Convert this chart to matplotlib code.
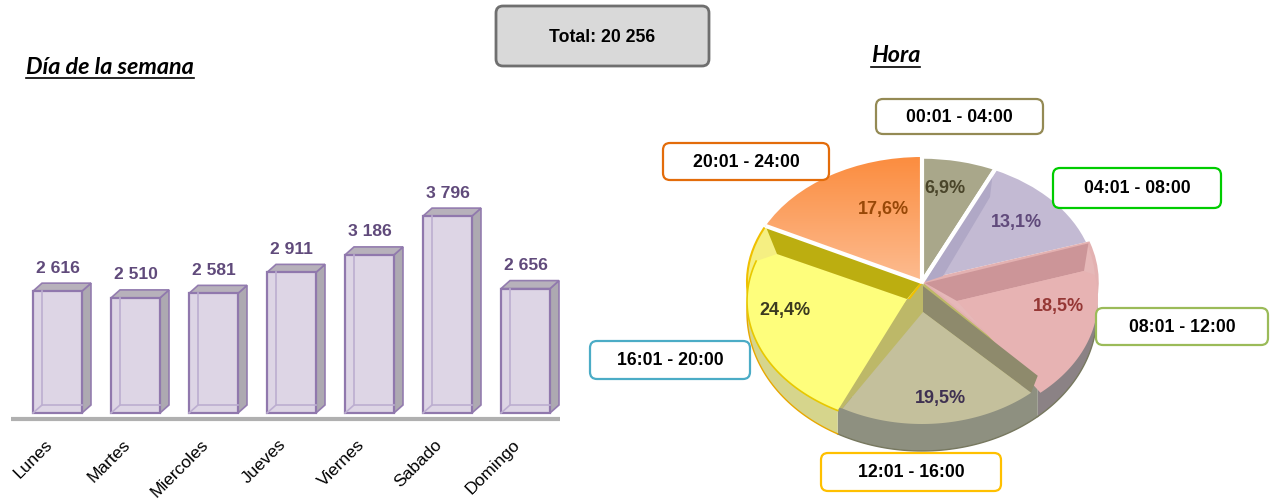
import numpy as np
import matplotlib
matplotlib.use("Agg")
import matplotlib.pyplot as plt
from matplotlib.patches import FancyBboxPatch, Polygon
from matplotlib.transforms import ScaledTranslation

plt.rcParams["font.family"] = ["Liberation Sans", "DejaVu Sans"]

# datos
dias = ["Lunes", "Martes", "Miercoles", "Jueves", "Viernes", "Sabado", "Domingo"]
casos = [2616, 2510, 2581, 2911, 3186, 3796, 2656]
etiquetas_casos = ["2 616", "2 510", "2 581", "2 911", "3 186", "3 796", "2 656"]
horas = ["00:01 - 04:00", "04:01 - 08:00", "08:01 - 12:00", "12:01 - 16:00", "16:01 - 20:00", "20:01 - 24:00"]
porcentajes = [6.9, 13.1, 18.5, 19.5, 24.4, 17.6]
total = "20 256"

W, H = 1271, 502
fig = plt.figure(figsize=(W / 100, H / 100), dpi=100)


# ------ barras ------
def rect_px(x0, y0, x1, y1):
    return [x0 / W, 1 - y1 / H, (x1 - x0) / W, (y1 - y0) / H]


ax = fig.add_axes(rect_px(11, 170, 560, 420))
PX_X = 78.0       # px por categoria
PX_Y = 0.0636     # px por caso
base = 700
ax.set_xlim((11 - 57.5) / PX_X, (560 - 57.5) / PX_X)
ax.set_ylim(base - 6 / PX_Y, base + 244 / PX_Y)
ax.patch.set_alpha(0)
ax.set_yticks([])
for s in ["top", "left", "right"]:
    ax.spines[s].set_visible(False)
ax.spines["bottom"].set_color("#b0b0b0")
ax.spines["bottom"].set_linewidth(3)
ax.spines["bottom"].set_capstyle("butt")

x = np.arange(len(dias))
bw = 49 / PX_X
dx = 9 / PX_X
dy = 8 / PX_Y
edge = "#9078ad"
for xi, v in zip(x, casos):
    l, r = xi - bw / 2, xi + bw / 2
    ax.add_patch(Polygon([(r, base), (r + dx, base + dy), (r + dx, v + dy), (r, v)],
                         fc="#a9a5ad", ec=edge, lw=1.2, alpha=0.95))
    ax.add_patch(Polygon([(l, v), (l + dx, v + dy), (r + dx, v + dy), (r, v)],
                         fc="#b3adb8", ec=edge, lw=1.2, alpha=0.95))
ax.bar(x, np.array(casos) - base, bottom=base, width=bw, color="#ddd5e5", edgecolor=edge, linewidth=1.6, zorder=3)
for xi, v in zip(x, casos):
    l, r = xi - bw / 2, xi + bw / 2
    ax.plot([l + dx, l + dx], [base + dy, v], color="#bcaed0", lw=1.2, zorder=4)
    ax.plot([l, l + dx, r], [base, base + dy, base + dy], color="#bcaed0", lw=1.2, zorder=4)
for xi, v, t in zip(x, casos, etiquetas_casos):
    ax.text(xi, v + 24 / PX_Y, t, ha="center", va="center", fontsize=12.6, fontweight="bold",
            color="#604a7b", zorder=5)
ax.set_xticks(x)
ax.set_xticklabels(dias, rotation=45, ha="right", rotation_mode="anchor", fontsize=12.5, color="black")
ax.tick_params(axis="x", length=0, pad=12)
for lab in ax.get_xticklabels():
    lab.set_transform(lab.get_transform() + ScaledTranslation(-13 / 100, 0, fig.dpi_scale_trans))

# ------ torta ------
CX, CY, RX, RY = 922, 283, 175, 125
pie = fig.add_axes([0, 0, 1, 1])
pie.set_zorder(-1)
base_col = ["#a9a78a", "#c3bad3", "#e6b8b8", "#bdb868", "#f5ef82", "#fb9a55"]
wedges, _ = pie.pie(porcentajes, startangle=90, counterclock=False, colors=base_col,
                    wedgeprops=dict(edgecolor="white", linewidth=2.5))
pie.set_aspect("auto")
LIMS = ((0 - CX) / RX, (W - CX) / RX, (CY - H) / RY, CY / RY)

fr = np.cumsum([0] + porcentajes) / sum(porcentajes) * 2 * np.pi


def u(px, py):
    return (px - CX) / RX, (CY - py) / RY


def arc(t0, t1, cx=CX, cy=CY, rx=RX, ry=RY):
    t = np.linspace(t0, t1, 60)
    return np.column_stack(u(cx + rx * np.sin(t), cy - ry * np.cos(t)))


def poly(pts, color, z, **kw):
    pie.add_patch(Polygon(pts, closed=True, fc=color, ec=kw.pop("ec", "none"), zorder=z, **kw))


# paredes exteriores
wall_col = {2: "#8b8285", 3: "#8e9080", 4: "#d6d58c"}
for i, c in wall_col.items():
    top = arc(fr[i], fr[i + 1])
    low = arc(fr[i], fr[i + 1], cy=314, ry=138)
    poly(np.vstack([top, low[::-1]]), c, 0.5, lw=0.8)
    pie.plot(low[:, 0], low[:, 1], color="#e8a800" if i == 4 else "#77785f", lw=1, zorder=0.6)
for w in wedges:
    w.set_zorder(1)
wedges[2].set_edgecolor("#e3b1b1")
wedges[3].set_edgecolor("none")
wedges[4].set_edgecolor("#f0c000")
wedges[4].set_linewidth(1.5)

# degradado naranja
grad = np.linspace(0, 1, 64)[:, None]
c0, c1 = np.array([251, 140, 62]) / 255, np.array([253, 190, 148]) / 255
img = c0[None, None, :] * (1 - grad[..., None]) + c1[None, None, :] * grad[..., None]
im = pie.imshow(img, extent=(-1, 0.1, -0.05, 1.02), aspect="auto", zorder=1.1)
im.set_clip_path(wedges[5])

# morado
p1 = (CX + RX * np.sin(fr[1]) * 0.97, CY - RY * np.cos(fr[1]))
poly([u(CX + 3, CY), u(*p1), u(990, 198), u(943, 277)], "#b0a8c6", 1.5)

# rosa
pk = arc(fr[2] + 0.12, fr[3], cx=928, cy=300, rx=170)
poly(np.vstack([[u(CX + 3, CY + 1)], arc(fr[2], fr[2])[:1], [u(1084, 272)], [u(957, 302)]]), "#cc9598", 1.6)
poly(np.vstack([[u(957, 302)], [u(1084, 272)], pk]), "#e7b3b3", 1.7)

# oliva grande
ol = arc(fr[3], fr[4], cy=300, rx=165)
poly(np.vstack([[u(CX + 1, CY + 4)], arc(fr[3], fr[3])[:1], ol[0:1], [u(923, 313)]]), "#8e8a6c", 1.8)
poly(np.vstack([[u(923, 313)], ol]), "#c4c09c", 1.9)
poly([u(907, 300), u(923, 300), u(923, 313), ol[-1], u(833, 407)], "#bdb868", 1.85)

# amarillo
am = arc(fr[4], fr[5] - 0.14, cy=302)
poly([u(CX - 1, CY), arc(fr[5], fr[5])[0], u(777, 255), u(907, 300)], "#bcae10", 2)
poly(np.vstack([[u(907, 300)], am, [u(777, 255)]]), "#fefe7c", 1.95, lw=1.2)
pie.plot(am[:, 0], am[:, 1], color="#e8c800", lw=1.2, zorder=2.1)

# separaciones blancas
for t in [fr[0], fr[1], fr[5]]:
    px, py = arc(t, t)[0]
    pie.plot([0, px], [0, py], color="white", lw=3, zorder=3, solid_capstyle="butt")

pie.set_xlim(LIMS[0], LIMS[1])
pie.set_ylim(LIMS[2], LIMS[3])
pie.axis("off")

# ------ textos y cajas ------
top_ax = fig.add_axes([0, 0, 1, 1])
top_ax.set_xlim(0, W)
top_ax.set_ylim(H, 0)
top_ax.axis("off")


def caja(x0, y0, x1, y1, txt, ec, fc="white", lw=1.6, size=12.7):
    top_ax.add_patch(FancyBboxPatch((x0 + 6, y0 + 6), x1 - x0 - 12, y1 - y0 - 12,
                                    boxstyle="round,pad=6,rounding_size=7", fc=fc, ec=ec, lw=lw,
                                    mutation_aspect=1))
    top_ax.text((x0 + x1) / 2, (y0 + y1) / 2, txt, ha="center", va="center",
                fontsize=size, fontweight="bold", color="black")


caja(496, 7, 709, 67, "Total: " + total, "#6f6f6f", fc="#d9d9d9", lw=2)
cajas = [(876, 100, 1043, 135, "#948a54"), (1053, 169, 1221, 209, "#00cc00"),
         (1096, 309, 1268, 346, "#9bbb59"), (821, 454, 1001, 492, "#ffc000"),
         (590, 342, 750, 380, "#4bacc6"), (663, 144, 829, 181, "#e36c0a")]
for (x0, y0, x1, y1, ec), h in zip(cajas, horas):
    caja(x0, y0, x1, y1, h, ec)

pos = [(945, 189, "#4a452a"), (1016, 223, "#604a7b"), (1058, 307, "#953735"),
       (940, 399, "#3f3151"), (785, 311, "#3b3a20"), (883, 210, "#984807")]
for (px, py, c), p in zip(pos, porcentajes):
    top_ax.text(px, py, f"{p:.1f}%".replace(".", ","), ha="center", va="center",
                fontsize=13, fontweight="bold", color=c)

for tx, ty, txt in [(26, 67, "Día de la semana"), (871, 56, "Hora")]:
    t = top_ax.text(tx, ty, txt, ha="left", va="center", fontsize=16.8, fontweight="bold",
                    fontstyle="italic", family="Lato", color="black")
    bb = t.get_window_extent(fig.canvas.get_renderer())
    top_ax.plot([bb.x0, bb.x1], [ty + 12, ty + 12], color="black", lw=1.2)

fig.savefig("out.png", dpi=100)
